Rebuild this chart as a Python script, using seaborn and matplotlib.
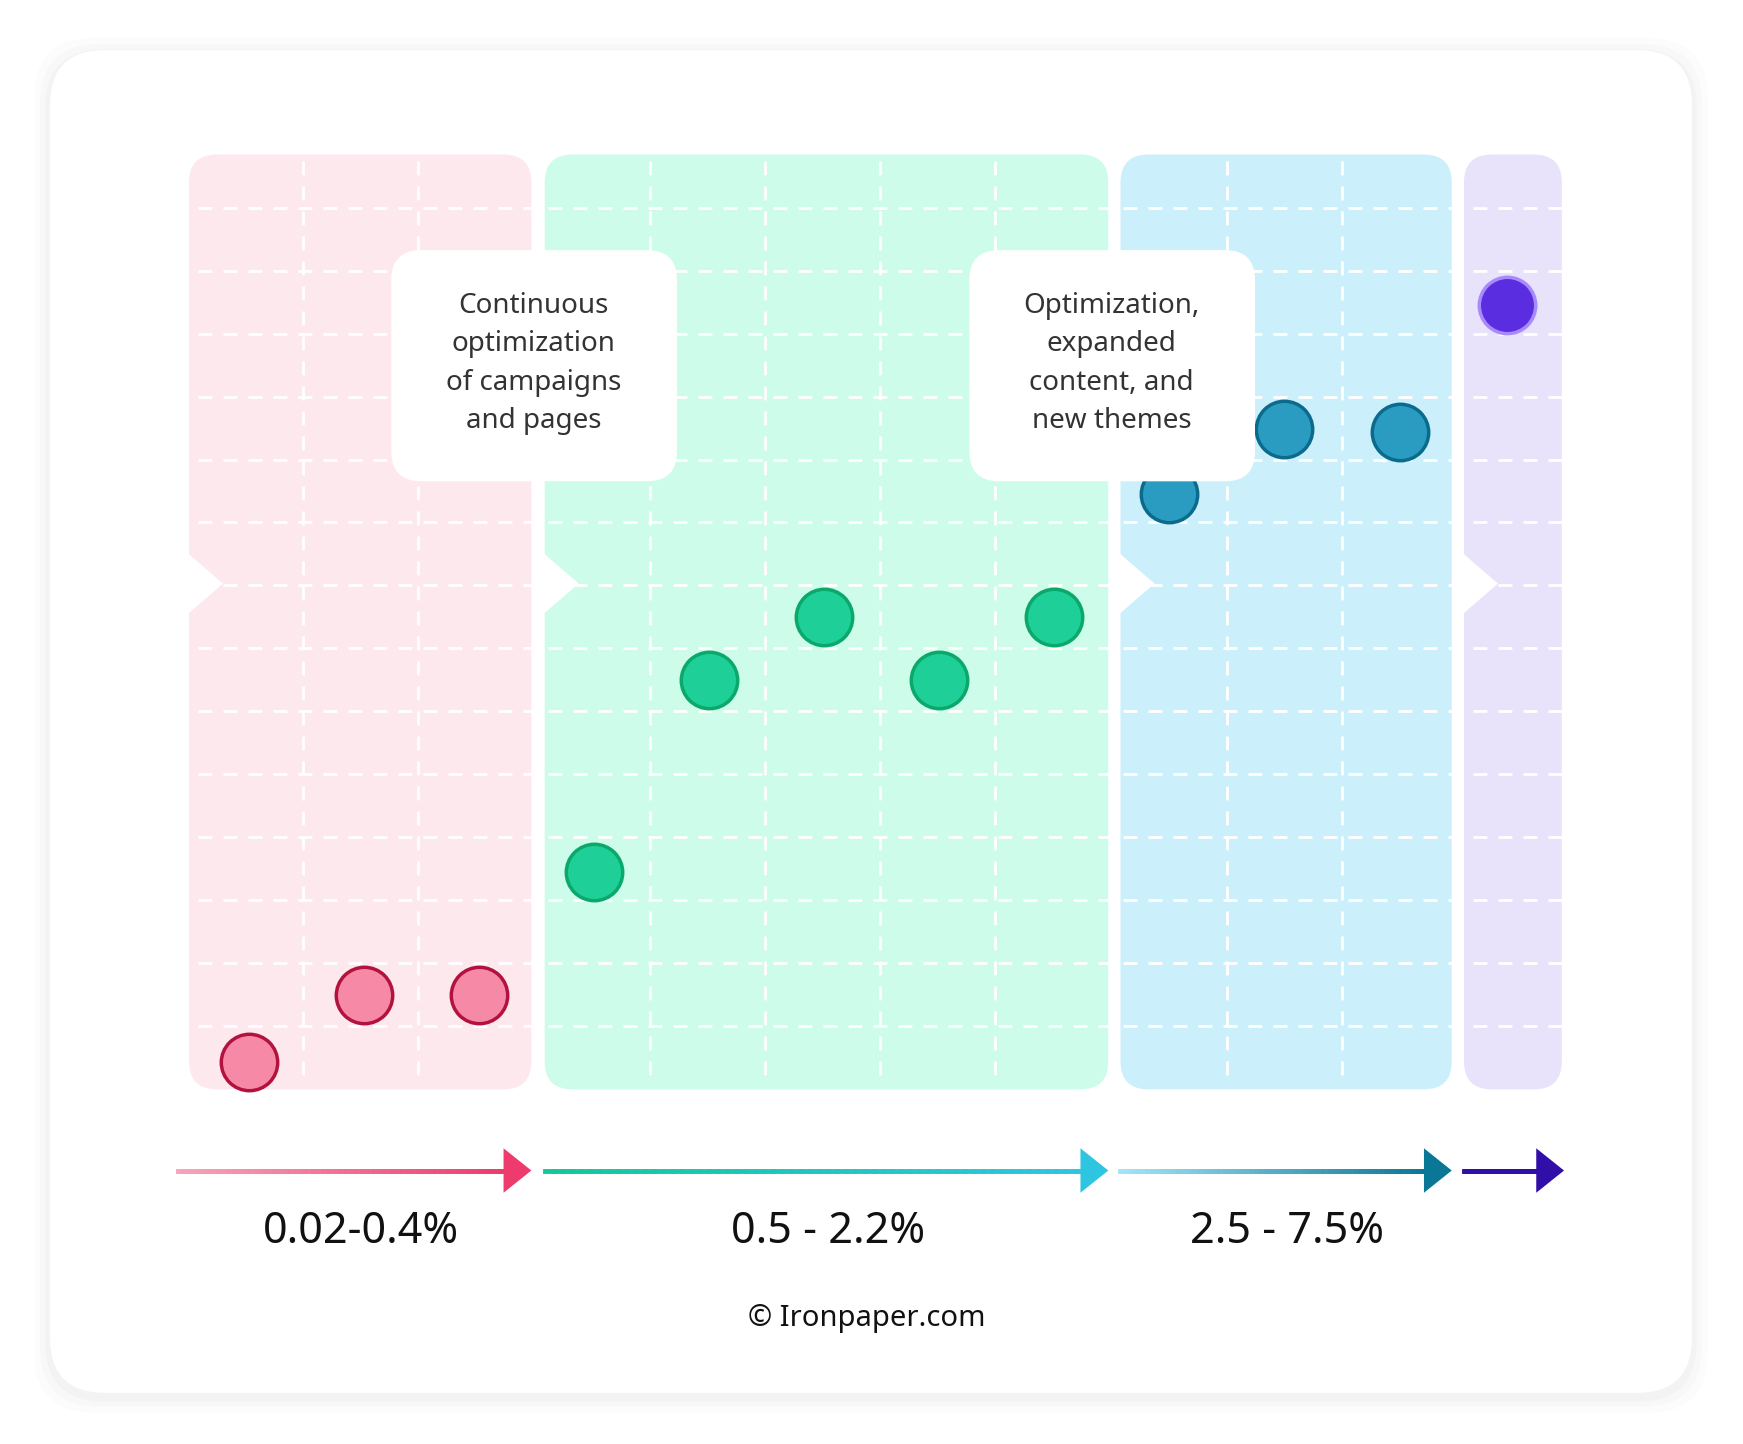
import numpy as np
import pandas as pd
import seaborn as sns
import matplotlib.pyplot as plt
from matplotlib.patches import FancyBboxPatch, Polygon

# grid column index of each point, and height in grid rows above the baseline
columns = [0, 1, 2, 3, 4, 5, 6, 7, 8, 9, 10, 10.93]
heights = [0.44, 1.5, 1.5, 3.46, 6.5, 7.5, 6.5, 7.5, 9.47, 10.5, 10.45, 12.47]
stage = ["low", "low", "low", "mid", "mid", "mid", "mid", "mid", "high", "high", "high", "top"]
range_labels = ["0.02-0.4%", "0.5 - 2.2%", "2.5 - 7.5%"]
callouts = ["Continuous\noptimization\nof campaigns\nand pages",
            "Optimization,\nexpanded\ncontent, and\nnew themes"]

S = 1743 / 1568


def px(i):
    return (224 + np.asarray(i) * 103.5) * S


def py(u):
    return (980 - np.asarray(u) * 56.6) * S


fig = plt.figure(figsize=(17.43, 14.44), dpi=100)
ax = fig.add_axes([0, 0, 1, 1])
ax.set_xlim(0, 1743)
ax.set_ylim(1444, 0)
ax.axis("off")

# card with soft shadow
for k, a in [(16, 0.012), (10, 0.015), (5, 0.02)]:
    ax.add_patch(FancyBboxPatch((45 * S - k, 45 * S - k + 4), 1477 * S + 2 * k, 1208 * S + 2 * k,
                                boxstyle="round,pad=0,rounding_size=60", fc="#000000", ec="none", alpha=a))
ax.add_patch(FancyBboxPatch((45 * S, 45 * S), 1477 * S, 1208 * S,
                            boxstyle="round,pad=0,rounding_size=55", fc="white", ec="none"))

panels = [(170, 478, "#fde8ed"), (490, 997, "#cdfcea"), (1008, 1306, "#cbf0fb"), (1317, 1405, "#e8e2fb")]
for x0, x1, c in panels:
    ax.add_patch(FancyBboxPatch((x0 * S, 139 * S), (x1 - x0) * S, 841 * S,
                                boxstyle="round,pad=0,rounding_size=28", fc=c, ec="none"))
    ax.add_patch(Polygon([(x0 * S - 2, 497 * S), (x0 * S + 34, 525 * S), (x0 * S - 2, 553 * S)],
                         fc="white", ec="none"))

# dashed grid
for gy in np.arange(187, 930, 56.6):
    ax.plot([178 * S, 1405 * S], [gy * S, gy * S], color="white", lw=2, ls=(0, (5, 4)))
for gx in [273, 376, 585, 688, 792, 895, 1104, 1207]:
    ax.plot([gx * S, gx * S], [145 * S, 975 * S], color="white", lw=2, ls=(0, (5, 4)))

df = pd.DataFrame({"x": px(columns), "y": py(heights), "stage": stage})
fills = {"low": "#f68aa6", "mid": "#1fcf98", "high": "#2a9cc2", "top": "#5b2de0"}
edges = {"low": "#b3123f", "mid": "#0aa86a", "high": "#0c6b8c", "top": "#a78bfa"}
for s, g in df.groupby("stage"):
    sns.scatterplot(data=g, x="x", y="y", ax=ax, s=1650, color=fills[s],
                    edgecolor=edges[s], linewidth=2.5, zorder=5, legend=False)
ax.set_xlabel("")
ax.set_ylabel("")

# callouts (drawn over the points)
for cx, txt in zip([480, 1000], callouts):
    ax.add_patch(FancyBboxPatch(((cx - 128) * S, 225 * S), 257 * S, 208 * S,
                                boxstyle="round,pad=0,rounding_size=30", fc="white", ec="none",
                                zorder=8))
    ax.text(cx * S, 327 * S, txt, ha="center", va="center", fontsize=20, color="#333333",
            family="Noto Sans", fontweight="semibold", linespacing=1.5, zorder=9)

# arrows
arrows = [(160, 478, "#f7a3bb", "#ec3b6c"), (490, 997, "#13c79a", "#2ec5e0"),
          (1008, 1306, "#a3e4f5", "#0a7797"), (1317, 1407, "#2f0fa8", "#2f0fa8")]
for x0, x1, c0, c1 in arrows:
    xs = np.linspace(x0, x1 - 22, 60) * S
    cols = sns.blend_palette([c0, c1], len(xs) - 1)
    for j in range(len(xs) - 1):
        ax.plot(xs[j:j + 2], [1053 * S] * 2, color=cols[j], lw=3.5, solid_capstyle="projecting")
    ax.add_patch(Polygon([((x1 - 25) * S, 1033 * S), (x1 * S, 1053 * S), ((x1 - 25) * S, 1073 * S)],
                         fc=c1, ec="none"))

for cx, lab in zip([325, 745, 1158], range_labels):
    ax.text(cx * S, 1108 * S, lab, ha="center", va="center", fontsize=31, color="#111111",
            family="Noto Sans", fontweight="semibold")
ax.text(780 * S, 1186 * S, "© Ironpaper.com", ha="center", va="center", fontsize=21,
        color="#111111", family="Noto Sans")

fig.savefig("out.png", dpi=100, facecolor="white")
